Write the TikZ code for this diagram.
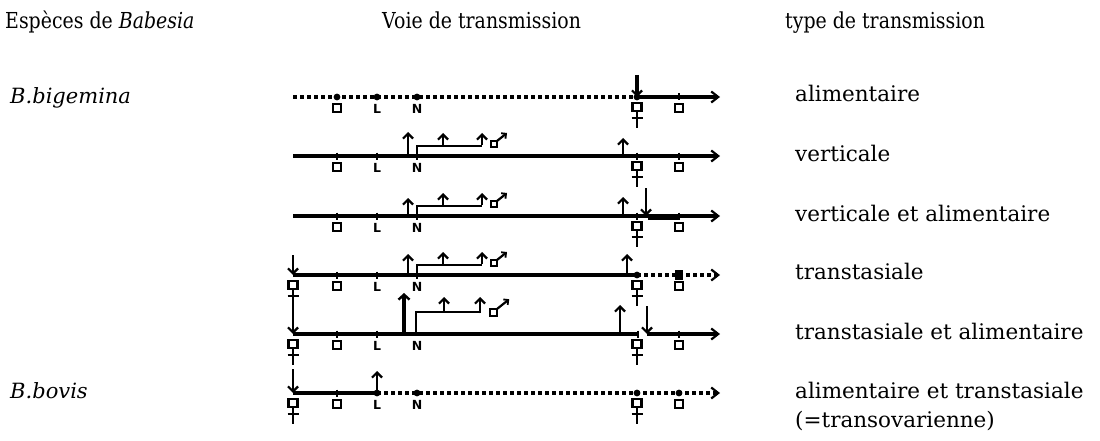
\documentclass[tikz,border=0pt]{standalone}
\usepackage{fontspec}
\setmainfont{DejaVu Serif}
\newfontfamily\hdrfont[FakeStretch=0.86]{DejaVu Serif}
\newfontfamily\lblfont{DejaVu Sans}
\usetikzlibrary{arrows.meta}

\tikzset{
  hdr/.style={font=\hdrfont\fontsize{22}{26}\selectfont, inner sep=0pt, anchor=base west},
  spc/.style={font=\fontsize{21}{24}\selectfont\itshape, inner sep=0pt, anchor=base west},
  typ/.style={font=\fontsize{21.5}{24}\selectfont, inner sep=0pt, anchor=base west},
  lettr/.style={font=\lblfont\bfseries\fontsize{12.5}{13}\selectfont, inner sep=0pt},
  axisline/.style={line width=3.2pt},
  axisarrow/.style={line width=3.2pt, -{Straight Barb[length=7pt,width=11pt,line width=2.2pt]}},
  dotline/.style={line width=3.3pt, dash pattern=on 4pt off 3pt},
  dotarrow/.style={line width=3.3pt, dash pattern=on 4pt off 3pt,
    -{Straight Barb[length=7pt,width=11pt,line width=2.2pt]}},
  uparrow/.style={line width=2.9pt, -{Straight Barb[length=5pt,width=10pt,line width=2.2pt]}},
  bigarrow/.style={line width=4.4pt, -{Straight Barb[length=5pt,width=11pt,line width=2.4pt]}},
  branch/.style={line width=2.9pt, line join=miter},
  tickmk/.style={line width=1.3pt},
  glyph/.style={line width=2.2pt},
  dotmk/.style={fill=black},
}

% small tick on a time line
\newcommand\tk[2]{\draw[tickmk] (#1,#2-3.5) -- (#1,#2+3.5);}
% stage marks on a dotted line
\newcommand\dt[2]{\fill[dotmk] (#1,#2) circle (3.4pt);}
% egg sign (open square)
\newcommand\sq[2]{\draw[glyph] (#1-4,#2+7) rectangle (#1+4,#2+15);}
% female sign
\newcommand\fem[2]{\draw[glyph] (#1-4.5,#2+6) rectangle (#1+4.5,#2+14)
  (#1,#2+14) -- (#1,#2+31) (#1-5.5,#2+21) -- (#1+5.5,#2+21);}
% male sign: #1 left, #2 bottom of the square, #3 size factor
\newcommand\mal[3]{\draw[glyph] (#1,#2-6*#3) rectangle (#1+6*#3,#2);
  \draw[glyph, -{Straight Barb[length=3.5pt,width=7pt,line width=1.8pt]}]
  (#1+6*#3,#2-6*#3) -- (#1+16*#3,#2-14*#3);}
% labels under a line: egg, L, N, female, egg
\newcommand\labs[1]{%
  \sq{337}{#1}
  \node[lettr] (L#1) at (377,#1+11.5) {L};
  \node[lettr] (N#1) at (417,#1+11.5) {N};
  \fem{637}{#1}
  \sq{679}{#1}}
% passage through the stages: larva, nymphs and adults
\newcommand\stages[4]{%
  \draw[uparrow] (408,#1) -- (408,#1-#2);
  \draw[branch] (417,#1) -- (417,#1-10) -- (482,#1-10);
  \draw[uparrow] (443,#1-10) -- (443,#1-23);
  \draw[uparrow] (482,#1-11.4) -- (482,#1-23);
  \mal{491}{#1-9}{1}
  \draw[uparrow] (#4,#1) -- (#4,#1-#3);}

\begin{document}
\begin{tikzpicture}[x=1pt,y=-1pt]
\fill[white] (0,0) rectangle (1100,441);
\useasboundingbox (0,0) rectangle (1100,441);

% headings
\node[hdr] (hdrA) at (5,29) {Espèces de \textit{Babesia}};
\node[hdr] (hdrB) at (382,29) {Voie de transmission};
\node[hdr] (hdrC) at (785,29) {type de transmission};

% species
\node[spc] (spA) at (10,104) {B.bigemina};
\node[spc] (spB) at (10,398) {B.bovis};

% transmission types
\node[typ] (t1) at (795,102) {alimentaire};
\node[typ] (t2) at (795,161) {verticale};
\node[typ] (t3) at (795,221) {verticale et alimentaire};
\node[typ] (t4) at (795,279) {transtasiale};
\node[typ] (t5) at (795,339) {transtasiale et alimentaire};
\node[typ] (t6) at (795,398) {alimentaire et transtasiale};
\node[typ] (t7) at (795,427) {(=transovarienne)};

% row 1 : alimentaire
\draw[dotline] (293,97) -- (637,97);
\dt{337}{97}\dt{377}{97}\dt{417}{97}\dt{637}{97}
\draw[axisarrow] (637,97) -- (720,97);
\tk{679}{97}
\draw[uparrow, line width=3.6pt] (637,75) -- (637,97);
\labs{97}

% row 2 : verticale
\draw[axisarrow] (293,156) -- (720,156);
\tk{337}{156}\tk{377}{156}\tk{417}{156}\tk{637}{156}\tk{679}{156}
\stages{156}{24}{18}{623}
\labs{156}

% row 3 : verticale et alimentaire
\draw[axisarrow] (293,216) -- (720,216);
\tk{337}{216}\tk{377}{216}\tk{417}{216}\tk{637}{216}\tk{679}{216}
\stages{216}{18}{19}{623}
\draw[uparrow] (646,188) -- (646,216);
\draw[line width=5pt] (648,217) -- (679,217);
\labs{216}

% row 4 : transtasiale
\draw[uparrow] (293,255) -- (293,275);
\draw[axisline] (293,275) -- (637,275);
\tk{337}{275}\tk{377}{275}\tk{417}{275}
\draw[dotarrow] (637,275) -- (720,275);
\dt{637}{275}
\fill (675,270) rectangle (683,280);
\stages{275}{21}{21}{627}
\fem{293}{275}
\labs{275}

% row 5 : transtasiale et alimentaire
\draw[uparrow] (293,306) -- (293,334);
\draw[axisline] (293,334) -- (638,334);
\tk{337}{334}\tk{377}{334}\tk{638}{334}
\draw[bigarrow] (404,334) -- (404,293);
\draw[branch] (416,334) -- (416,312) -- (480,312);
\draw[uparrow] (444,312) -- (444,297);
\draw[uparrow] (480,313.4) -- (480,297);
\mal{490}{316}{1.2}
\draw[uparrow] (620,334) -- (620,305);
\draw[uparrow] (647,306) -- (647,334);
\draw[axisarrow] (647,334) -- (720,334);
\tk{679}{334}
\fem{293}{334}
\labs{334}

% row 6 : alimentaire et transtasiale
\draw[uparrow] (293,369) -- (293,393);
\draw[axisline] (293,393) -- (377,393);
\tk{337}{393}
\draw[uparrow] (377,393) -- (377,371);
\draw[dotarrow] (377,393) -- (720,393);
\dt{377}{393}\dt{417}{393}\dt{637}{393}\dt{679}{393}
\fem{293}{393}
\labs{393}
\end{tikzpicture}
\end{document}
